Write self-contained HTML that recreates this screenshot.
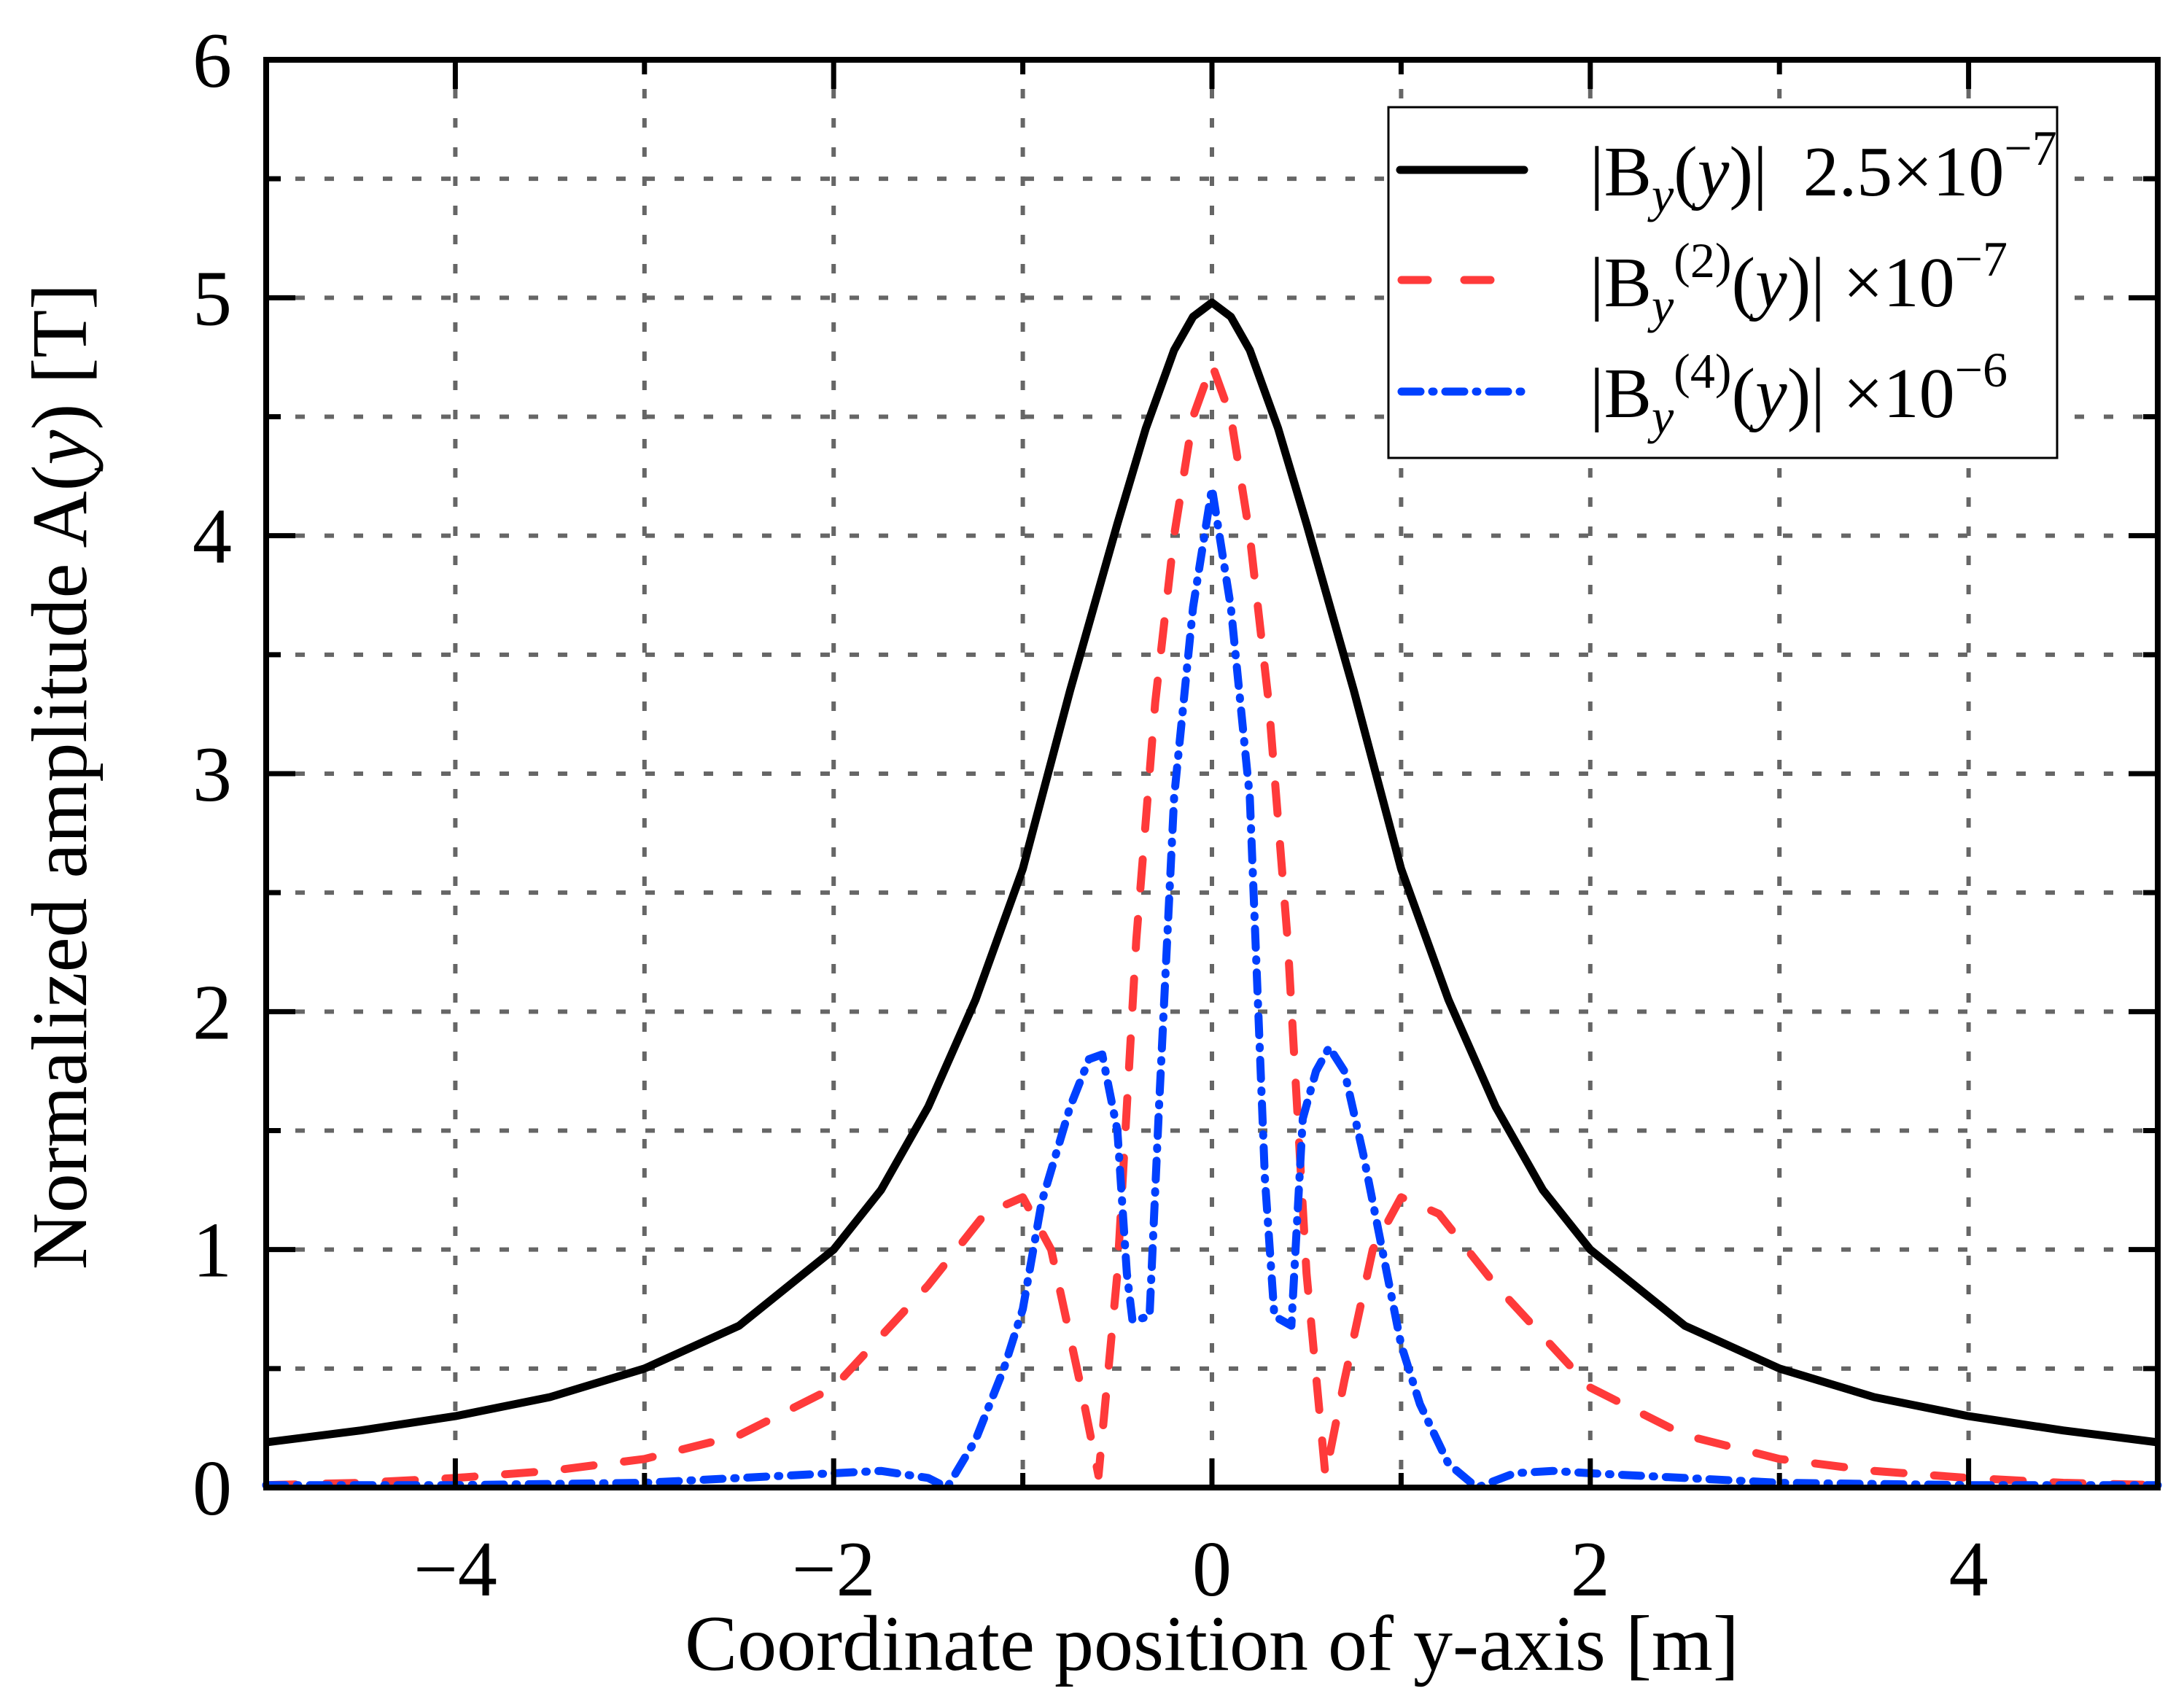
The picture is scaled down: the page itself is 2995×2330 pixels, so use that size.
<!DOCTYPE html>
<html><head><meta charset="utf-8"><style>
html,body{margin:0;padding:0;background:#fff;}
svg{display:block;font-family:"Liberation Serif",serif;}
</style></head><body>
<svg id="chart" width="2995" height="2330" viewBox="0 0 2995 2330" xmlns="http://www.w3.org/2000/svg">
<g id="grid"></g>
<g id="series"></g>
<g id="axes"></g>
<text x="1662" y="2290" font-size="108" text-anchor="middle">Coordinate position of y-axis [m]</text>
<text transform="translate(118,1065) rotate(-90)" font-size="108" text-anchor="middle">Normalized amplitude A(<tspan font-style="italic">y</tspan>) [T]</text>
<g>
<rect x="1904" y="147" width="917" height="481" fill="#fff" stroke="#000" stroke-width="3"/>
<line x1="1920" y1="233" x2="2090" y2="233" stroke="#000" stroke-width="11" stroke-linecap="round"/>
<line x1="1922" y1="384" x2="2090" y2="384" stroke="#ff3a3a" stroke-width="11" stroke-linecap="round" stroke-dasharray="36 50"/>
<line x1="1922" y1="537" x2="2090" y2="537" stroke="#0040ff" stroke-width="11" stroke-linecap="round" stroke-dasharray="26 16 2 16"/>
<text x="2180" y="268" font-size="98" xml:space="preserve">|B<tspan dy="22" font-size="68" font-style="italic">y</tspan><tspan dy="-22">(</tspan><tspan font-style="italic">y</tspan>)|  2.5×10<tspan dy="-42" font-size="68">−7</tspan></text>
<text x="2180" y="420" font-size="98">|B<tspan dy="22" font-size="68" font-style="italic">y</tspan><tspan dy="-62" font-size="68">(2)</tspan><tspan dy="40">(</tspan><tspan font-style="italic">y</tspan>)| ×10<tspan dy="-42" font-size="68">−7</tspan></text>
<text x="2180" y="572" font-size="98">|B<tspan dy="22" font-size="68" font-style="italic">y</tspan><tspan dy="-62" font-size="68">(4)</tspan><tspan dy="40">(</tspan><tspan font-style="italic">y</tspan>)| ×10<tspan dy="-42" font-size="68">−6</tspan></text>
</g>
</svg>
<script>
const xTicks = [-4,-2,0,2,4];
const xTickLabels = ["\u22124","\u22122","0","2","4"];
const yTicks = [0,1,2,3,4,5,6];
const yTickLabels = ["0","1","2","3","4","5","6"];
const blackX = [-5,-4.5,-4,-3.5,-3,-2.5,-2,-1.75,-1.5,-1.25,-1,-0.75,-0.5,-0.35,-0.2,-0.1,0,0.1,0.2,0.35,0.5,0.75,1,1.25,1.5,1.75,2,2.5,3,3.5,4,4.5,5];
const blackY = [0.19,0.24,0.3,0.38,0.5,0.68,1.0,1.25,1.6,2.05,2.6,3.35,4.05,4.45,4.78,4.92,4.98,4.92,4.78,4.45,4.05,3.35,2.6,2.05,1.6,1.25,1.0,0.68,0.5,0.38,0.3,0.24,0.19];
const redX = [-5,-4.5,-4,-3.5,-3,-2.5,-2,-1.5,-1.2,-1,-0.85,-0.7,-0.6,-0.5,-0.4,-0.3,-0.2,-0.1,0,0.1,0.2,0.3,0.4,0.5,0.6,0.7,0.85,1,1.2,1.5,2,2.5,3,3.5,4,4.5,5];
const redY = [0.01,0.02,0.04,0.07,0.12,0.22,0.42,0.85,1.15,1.22,1.0,0.45,0.05,0.9,2.3,3.3,4.0,4.5,4.72,4.5,4.0,3.3,2.3,0.9,0.05,0.45,1.0,1.22,1.15,0.85,0.42,0.22,0.12,0.07,0.04,0.02,0.01];
const blueX = [-5,-4,-3,-2.5,-2,-1.75,-1.5,-1.4,-1.25,-1.1,-1,-0.9,-0.75,-0.65,-0.58,-0.5,-0.45,-0.42,-0.33,-0.28,-0.2,-0.1,0,0.1,0.2,0.28,0.33,0.42,0.48,0.55,0.62,0.7,0.8,0.9,1,1.1,1.25,1.4,1.6,1.8,2,2.5,3,4,5];
const blueY = [0.01,0.01,0.02,0.04,0.06,0.07,0.04,0.0,0.2,0.5,0.75,1.2,1.6,1.8,1.82,1.5,0.9,0.7,0.72,1.6,2.9,3.7,4.2,3.7,2.9,1.3,0.72,0.68,1.55,1.75,1.85,1.75,1.4,1.0,0.6,0.35,0.1,0.0,0.06,0.07,0.06,0.04,0.02,0.01,0.01];

const L=365,R=2959,T=82,B=2040;
const sx=v=>L+(v+5)/10*(R-L);
const sy=v=>B-v/6*(B-T);
const NS="http://www.w3.org/2000/svg";
function mk(tag,parent,attrs){const e=document.createElementNS(NS,tag);for(const k in attrs)e.setAttribute(k,attrs[k]);parent.appendChild(e);return e;}
const grid=document.getElementById('grid'),axes=document.getElementById('axes'),ser=document.getElementById('series');
for(let v=-4;v<=4;v+=1){const g=mk('line',grid,{x1:sx(v),x2:sx(v),y1:T,y2:B,stroke:'#666','stroke-width':6,'stroke-dasharray':'13 27'});

}
for(let v=0.5;v<6;v+=0.5){const g=mk('line',grid,{x1:L,x2:R,y1:sy(v),y2:sy(v),stroke:'#666','stroke-width':6,'stroke-dasharray':'13 27'});

}
function series(xs,ys,attrs,name){const d=xs.map((x,i)=>(i?'L':'M')+sx(x).toFixed(1)+','+sy(ys[i]).toFixed(1)).join(' ');
const p=mk('path',ser,Object.assign({d:d,fill:'none','stroke-linejoin':'round'},attrs));

}
series(blackX,blackY,{stroke:'#000','stroke-width':11},'series-by');
series(redX,redY,{stroke:'#ff3a3a','stroke-width':11,'stroke-dasharray':'40 42','stroke-linecap':'round'},'series-by2');
series(blueX,blueY,{stroke:'#0040ff','stroke-width':11,'stroke-dasharray':'26 16 2 16','stroke-linecap':'round'},'series-by4');
const frame=mk('rect',axes,{x:L,y:T,width:R-L,height:B-T,fill:'none',stroke:'#000','stroke-width':8});


for(let v=-4;v<=4;v+=1){const len=(v%2===0)?40:20;
const t1=mk('line',axes,{x1:sx(v),x2:sx(v),y1:B,y2:B-len,stroke:'#000','stroke-width':7});


const t2=mk('line',axes,{x1:sx(v),x2:sx(v),y1:T,y2:T+len,stroke:'#000','stroke-width':7});

}
for(let v=0.5;v<6;v+=0.5){const len=(v%1===0)?40:20;
const t1=mk('line',axes,{x1:L,x2:L+len,y1:sy(v),y2:sy(v),stroke:'#000','stroke-width':7});


const t2=mk('line',axes,{x1:R,x2:R-len,y1:sy(v),y2:sy(v),stroke:'#000','stroke-width':7});

}
xTicks.forEach((v,i)=>{const t=mk('text',axes,{x:sx(v),y:2188,'font-size':108,'text-anchor':'middle'});t.textContent=xTickLabels[i];

});
yTicks.forEach((v,i)=>{const t=mk('text',axes,{x:318,y:sy(v)+37,'font-size':108,'text-anchor':'end'});t.textContent=yTickLabels[i];

});
</script>
</body></html>
